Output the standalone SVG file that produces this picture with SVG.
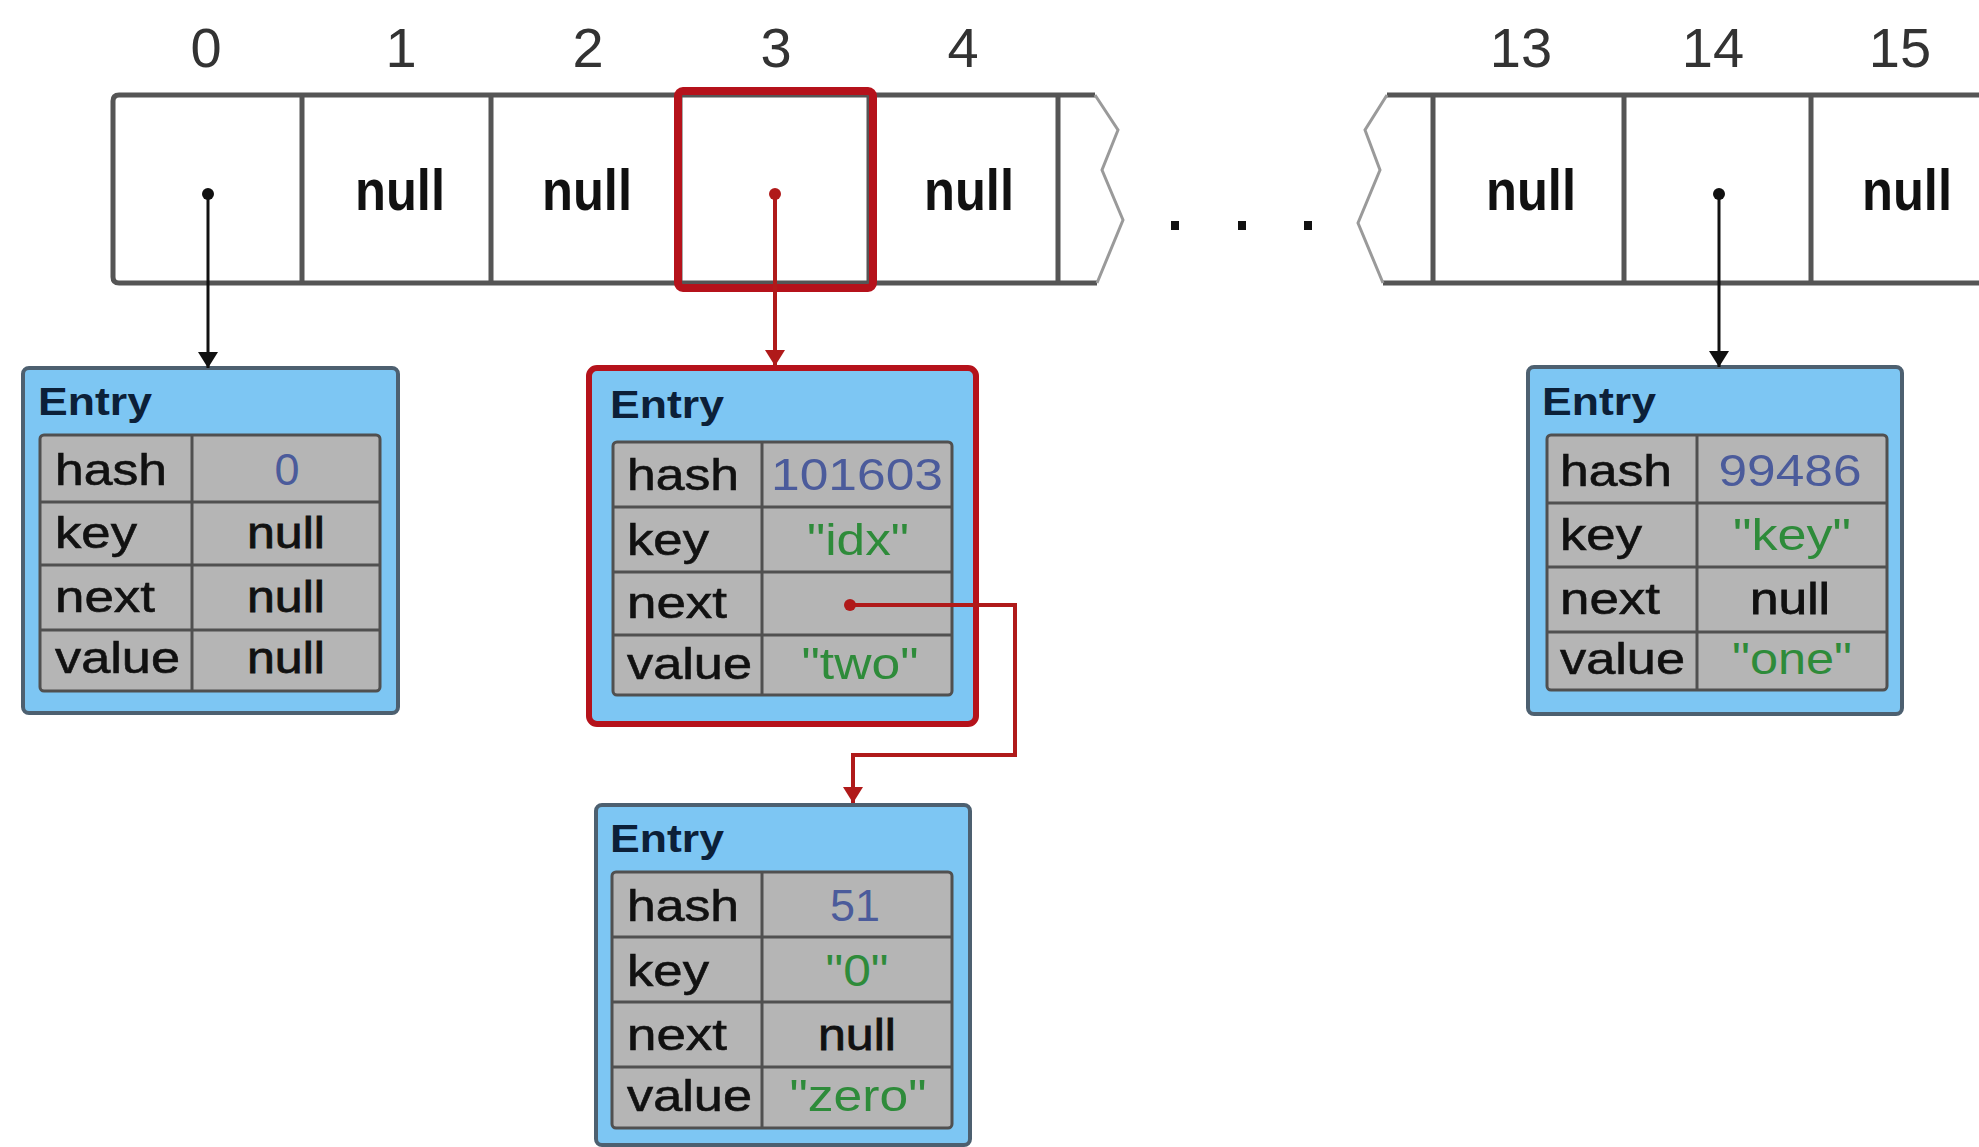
<svg xmlns="http://www.w3.org/2000/svg" width="1979" height="1147" viewBox="0 0 1979 1147">
<style>
  .bg{fill:#ffffff}
  .idx{font-family:"Liberation Sans",Arial,sans-serif;font-size:56px;fill:#333333;text-anchor:middle}
  .anull{font-family:"Liberation Sans",Arial,sans-serif;font-size:58px;font-weight:bold;fill:#111111;text-anchor:middle}
  .bar{fill:none;stroke:#555555;stroke-width:5;stroke-linejoin:round}
  .zig{fill:none;stroke:#9a9a9a;stroke-width:3;stroke-linejoin:miter}
  .sel{fill:none;stroke:#b5121b;stroke-width:8}
  .dot{fill:#111111}
  .dotr{fill:#b01a1a}
  .outer{fill:#7dc6f3;stroke:#4d6070;stroke-width:4}
  .outerSel{fill:#7dc6f3;stroke:#b5121b;stroke-width:6}
  .tbl{fill:#b5b5b5;stroke:#505050;stroke-width:3}
  .grid{stroke:#505050;stroke-width:3}
  .title{font-family:"Liberation Sans",Arial,sans-serif;font-size:39px;font-weight:bold;fill:#0c2038}
  .lbl{font-family:"Liberation Sans",Arial,sans-serif;font-size:45px;fill:#111111;stroke:#111111;stroke-width:0.6}
  .val{font-family:"Liberation Sans",Arial,sans-serif;font-size:45px;text-anchor:middle}
  .vnull{fill:#111111;stroke:#111111;stroke-width:0.8}
  .vnum{fill:#4b5b9b}
  .vstr{fill:#2e8b3a}
  .cb{fill:none;stroke:#111111;stroke-width:3}
  .cr{fill:none;stroke:#b01a1a;stroke-width:4}
</style>
<defs>
  <marker id="ahB" markerUnits="userSpaceOnUse" markerWidth="20" markerHeight="16" viewBox="0 0 20 16" refX="10" refY="16" orient="0">
    <path d="M0,0 L20,0 L10,16 Z" fill="#111111"/>
  </marker>
  <marker id="ahR" markerUnits="userSpaceOnUse" markerWidth="20" markerHeight="16" viewBox="0 0 20 16" refX="10" refY="16" orient="0">
    <path d="M0,0 L20,0 L10,16 Z" fill="#b01a1a"/>
  </marker>
</defs>
<rect class="bg" x="0" y="0" width="1979" height="1147"/>

<g id="array">
  <text class="idx" x="206" y="67">0</text>
  <text class="idx" x="401" y="67">1</text>
  <text class="idx" x="588" y="67">2</text>
  <text class="idx" x="776" y="67">3</text>
  <text class="idx" x="963" y="67">4</text>
  <text class="idx" x="1521" y="67">13</text>
  <text class="idx" x="1713" y="67">14</text>
  <text class="idx" x="1900" y="67">15</text>

  <path class="bar" d="M1095,95 H119 Q113,95 113,101 V277 Q113,283 119,283 H1097"/>
  <line class="bar" x1="302" y1="95" x2="302" y2="283"/>
  <line class="bar" x1="491" y1="95" x2="491" y2="283"/>
  <line class="bar" x1="680" y1="95" x2="680" y2="283"/>
  <line class="bar" x1="869" y1="95" x2="869" y2="283"/>
  <line class="bar" x1="1058" y1="95" x2="1058" y2="283"/>
  <polyline class="zig" points="1095,95 1118,130 1102,170 1123,220 1097,283"/>

  <rect class="dot" x="1171" y="221" width="8" height="9"/>
  <rect class="dot" x="1238" y="221" width="8" height="9"/>
  <rect class="dot" x="1304" y="221" width="8" height="9"/>

  <path class="bar" d="M1387,95 H1985 M1383,283 H1985"/>
  <polyline class="zig" points="1387,95 1365,130 1380,170 1358,223 1383,283"/>
  <line class="bar" x1="1433" y1="95" x2="1433" y2="283"/>
  <line class="bar" x1="1624" y1="95" x2="1624" y2="283"/>
  <line class="bar" x1="1811" y1="95" x2="1811" y2="283"/>

  <text class="anull" x="400" y="210" textLength="90" lengthAdjust="spacingAndGlyphs">null</text>
  <text class="anull" x="587" y="210" textLength="90" lengthAdjust="spacingAndGlyphs">null</text>
  <text class="anull" x="969" y="210" textLength="90" lengthAdjust="spacingAndGlyphs">null</text>
  <text class="anull" x="1531" y="210" textLength="90" lengthAdjust="spacingAndGlyphs">null</text>
  <text class="anull" x="1907" y="210" textLength="90" lengthAdjust="spacingAndGlyphs">null</text>

  <rect class="sel" x="678" y="91" width="195" height="197" rx="5"/>
</g>

<g id="entry-0">
  <rect class="outer" x="23" y="368" width="375" height="345" rx="6"/>
  <text class="title" x="38" y="415" textLength="114" lengthAdjust="spacingAndGlyphs">Entry</text>
  <rect class="tbl" x="40" y="435" width="340" height="256" rx="4"/>
  <line class="grid" x1="40" y1="502" x2="380" y2="502"/>
  <line class="grid" x1="40" y1="565" x2="380" y2="565"/>
  <line class="grid" x1="40" y1="630" x2="380" y2="630"/>
  <line class="grid" x1="192" y1="435" x2="192" y2="691"/>
  <text class="lbl" x="55" y="485" textLength="112" lengthAdjust="spacingAndGlyphs">hash</text>
  <text class="lbl" x="55" y="548" textLength="82" lengthAdjust="spacingAndGlyphs">key</text>
  <text class="lbl" x="55" y="612" textLength="100" lengthAdjust="spacingAndGlyphs">next</text>
  <text class="lbl" x="55" y="673" textLength="125" lengthAdjust="spacingAndGlyphs">value</text>
  <text class="val vnum" x="287" y="485">0</text>
  <text class="val vnull" x="286" y="548" textLength="78" lengthAdjust="spacingAndGlyphs">null</text>
  <text class="val vnull" x="286" y="612" textLength="78" lengthAdjust="spacingAndGlyphs">null</text>
  <text class="val vnull" x="286" y="673" textLength="78" lengthAdjust="spacingAndGlyphs">null</text>
</g>

<g id="entry-idx">
  <rect class="outerSel" x="589" y="368" width="387" height="356" rx="8"/>
  <text class="title" x="610" y="418" textLength="114" lengthAdjust="spacingAndGlyphs">Entry</text>
  <rect class="tbl" x="613" y="442" width="339" height="253" rx="4"/>
  <line class="grid" x1="613" y1="507" x2="952" y2="507"/>
  <line class="grid" x1="613" y1="572" x2="952" y2="572"/>
  <line class="grid" x1="613" y1="635" x2="952" y2="635"/>
  <line class="grid" x1="762" y1="442" x2="762" y2="695"/>
  <text class="lbl" x="627" y="490" textLength="112" lengthAdjust="spacingAndGlyphs">hash</text>
  <text class="lbl" x="627" y="555" textLength="82" lengthAdjust="spacingAndGlyphs">key</text>
  <text class="lbl" x="627" y="618" textLength="100" lengthAdjust="spacingAndGlyphs">next</text>
  <text class="lbl" x="627" y="679" textLength="125" lengthAdjust="spacingAndGlyphs">value</text>
  <text class="val vnum" x="857" y="490" textLength="172" lengthAdjust="spacingAndGlyphs">101603</text>
  <text class="val vstr" x="858" y="555" textLength="102" lengthAdjust="spacingAndGlyphs">"idx"</text>
  <text class="val vstr" x="860" y="679" textLength="117" lengthAdjust="spacingAndGlyphs">"two"</text>
</g>

<g id="entry-zero">
  <rect class="outer" x="596" y="805" width="374" height="340" rx="6"/>
  <text class="title" x="610" y="852" textLength="114" lengthAdjust="spacingAndGlyphs">Entry</text>
  <rect class="tbl" x="612" y="872" width="340" height="256" rx="4"/>
  <line class="grid" x1="612" y1="937" x2="952" y2="937"/>
  <line class="grid" x1="612" y1="1002" x2="952" y2="1002"/>
  <line class="grid" x1="612" y1="1067" x2="952" y2="1067"/>
  <line class="grid" x1="762" y1="872" x2="762" y2="1128"/>
  <text class="lbl" x="627" y="921" textLength="112" lengthAdjust="spacingAndGlyphs">hash</text>
  <text class="lbl" x="627" y="986" textLength="82" lengthAdjust="spacingAndGlyphs">key</text>
  <text class="lbl" x="627" y="1050" textLength="100" lengthAdjust="spacingAndGlyphs">next</text>
  <text class="lbl" x="627" y="1111" textLength="125" lengthAdjust="spacingAndGlyphs">value</text>
  <text class="val vnum" x="855" y="921" textLength="50" lengthAdjust="spacingAndGlyphs">51</text>
  <text class="val vstr" x="857" y="986" textLength="63" lengthAdjust="spacingAndGlyphs">"0"</text>
  <text class="val vnull" x="857" y="1050" textLength="78" lengthAdjust="spacingAndGlyphs">null</text>
  <text class="val vstr" x="858" y="1111" textLength="137" lengthAdjust="spacingAndGlyphs">"zero"</text>
</g>

<g id="entry-14">
  <rect class="outer" x="1528" y="367" width="374" height="347" rx="6"/>
  <text class="title" x="1542" y="415" textLength="114" lengthAdjust="spacingAndGlyphs">Entry</text>
  <rect class="tbl" x="1547" y="435" width="340" height="255" rx="4"/>
  <line class="grid" x1="1547" y1="503" x2="1887" y2="503"/>
  <line class="grid" x1="1547" y1="567" x2="1887" y2="567"/>
  <line class="grid" x1="1547" y1="632" x2="1887" y2="632"/>
  <line class="grid" x1="1697" y1="435" x2="1697" y2="690"/>
  <text class="lbl" x="1560" y="486" textLength="112" lengthAdjust="spacingAndGlyphs">hash</text>
  <text class="lbl" x="1560" y="550" textLength="82" lengthAdjust="spacingAndGlyphs">key</text>
  <text class="lbl" x="1560" y="614" textLength="100" lengthAdjust="spacingAndGlyphs">next</text>
  <text class="lbl" x="1560" y="674" textLength="125" lengthAdjust="spacingAndGlyphs">value</text>
  <text class="val vnum" x="1790" y="486" textLength="143" lengthAdjust="spacingAndGlyphs">99486</text>
  <text class="val vstr" x="1792" y="550" textLength="118" lengthAdjust="spacingAndGlyphs">"key"</text>
  <text class="val vnull" x="1790" y="614" textLength="80" lengthAdjust="spacingAndGlyphs">null</text>
  <text class="val vstr" x="1792" y="674" textLength="120" lengthAdjust="spacingAndGlyphs">"one"</text>
</g>

<g id="connectors">
  <circle class="dot" cx="208" cy="194" r="6"/>
  <line class="cb" x1="208" y1="194" x2="208" y2="368" marker-end="url(#ahB)"/>
  <circle class="dotr" cx="775" cy="194" r="6"/>
  <line class="cr" x1="775" y1="194" x2="775" y2="366" marker-end="url(#ahR)"/>
  <circle class="dot" cx="1719" cy="194" r="6"/>
  <line class="cb" x1="1719" y1="194" x2="1719" y2="367" marker-end="url(#ahB)"/>
  <circle class="dotr" cx="850" cy="605" r="6"/>
  <path class="cr" d="M850,605 H1015 V755 H853 V803" marker-end="url(#ahR)"/>
</g>
</svg>
